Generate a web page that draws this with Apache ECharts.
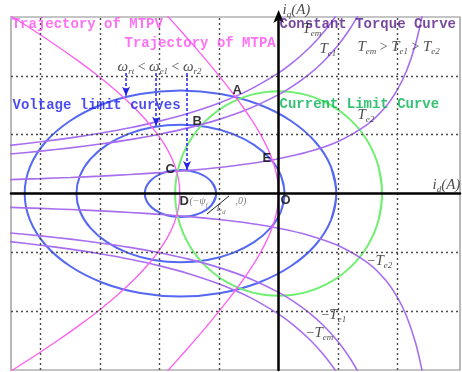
<!DOCTYPE html>
<html><head><meta charset="utf-8">
<script src="https://cdn.jsdelivr.net/npm/echarts@6/dist/echarts.min.js"></script>
<style>html,body{margin:0;padding:0;background:#fff}#c{width:462px;height:372px}</style>
</head><body><div id="c"></div>
<script>
// ---- data (i_d, i_q), in grid units ----
const gridX = [-4, -3, -2, -1, 1, 2];
const gridY = [-2, -1, 1, 2];

const voltageSmall = [[-1.13,-0.2],[-1.05,0],[-1.13,0.2],[-1.35,0.346],[-1.65,0.4],[-1.95,0.346],[-2.17,0.2],[-2.25,0],[-2.17,-0.2],[-1.95,-0.346],[-1.65,-0.4],[-1.35,-0.346],[-1.13,-0.2],[-1.05,0],[-1.13,0.2]];
const voltageMiddle = [[0.04,-0.303],[0.10,0],[0.04,0.303],[-0.134,0.585],[-0.413,0.827],[-0.775,1.013],[-1.197,1.13],[-1.65,1.17],[-2.103,1.13],[-2.525,1.013],[-2.887,0.827],[-3.166,0.585],[-3.34,0.303],[-3.4,0],[-3.34,-0.303],[-3.166,-0.585],[-2.887,-0.827],[-2.525,-1.013],[-2.103,-1.13],[-1.65,-1.17],[-1.197,-1.13],[-0.775,-1.013],[-0.413,-0.827],[-0.134,-0.585],[0.04,-0.303],[0.10,0],[0.04,0.303]];
const voltageLarge = [[0.881,-0.453],[0.97,0],[0.881,0.453],[0.619,0.875],[0.203,1.237],[-0.34,1.516],[-0.972,1.69],[-1.65,1.75],[-2.328,1.69],[-2.96,1.516],[-3.503,1.237],[-3.919,0.875],[-4.181,0.453],[-4.27,0],[-4.181,-0.453],[-3.919,-0.875],[-3.503,-1.237],[-2.96,-1.516],[-2.328,-1.69],[-1.65,-1.75],[-0.972,-1.69],[-0.34,-1.516],[0.203,-1.237],[0.619,-0.875],[0.881,-0.453],[0.97,0],[0.881,0.453]];
const currentLimit = [[1.681,-0.45],[1.74,0],[1.681,0.45],[1.507,0.87],[1.23,1.23],[0.87,1.507],[0.45,1.681],[0,1.74],[-0.45,1.681],[-0.87,1.507],[-1.23,1.23],[-1.507,0.87],[-1.681,0.45],[-1.74,0],[-1.681,-0.45],[-1.507,-0.87],[-1.23,-1.23],[-0.87,-1.507],[-0.45,-1.681],[0,-1.74],[0.45,-1.681],[0.87,-1.507],[1.23,-1.23],[1.507,-0.87],[1.681,-0.45],[1.74,0],[1.681,0.45]];

const torqueTem = [[-4.6,0.809],[-4,0.879],[-3.5,0.946],[-3,1.025],[-2.5,1.118],[-2,1.23],[-1.5,1.367],[-1,1.538],[-0.5,1.757],[0,2.05],[0.25,2.236],[0.5,2.46],[0.65,2.617],[0.8,2.795],[0.9,2.929],[1.0,3.075],[1.1,3.237]];
const torqueTe1 = [[-4.6,0.663],[-4,0.72],[-3.5,0.775],[-3,0.84],[-2.5,0.916],[-2,1.008],[-1.5,1.12],[-1,1.26],[-0.5,1.44],[0,1.68],[0.25,1.833],[0.5,2.016],[0.75,2.24],[1.0,2.52],[1.2,2.8],[1.35,3.055],[1.45,3.252]];
const torqueTe2 = [[-4.6,0.233],[-4,0.253],[-3.5,0.272],[-3,0.295],[-2.5,0.322],[-2,0.354],[-1.5,0.393],[-1,0.443],[-0.5,0.506],[0,0.59],[0.5,0.708],[1.0,0.885],[1.5,1.18],[1.8,1.475],[2.0,1.77],[2.15,2.082],[2.3,2.529],[2.4,2.95],[2.45,3.218]];
const torqueNegTem = [[-4.6,-0.809],[-4,-0.879],[-3.5,-0.946],[-3,-1.025],[-2.5,-1.118],[-2,-1.23],[-1.5,-1.367],[-1,-1.538],[-0.5,-1.757],[0,-2.05],[0.25,-2.236],[0.5,-2.46],[0.65,-2.617],[0.8,-2.795],[0.9,-2.929],[1.0,-3.075],[1.1,-3.237]];
const torqueNegTe1 = [[-4.6,-0.663],[-4,-0.72],[-3.5,-0.775],[-3,-0.84],[-2.5,-0.916],[-2,-1.008],[-1.5,-1.12],[-1,-1.26],[-0.5,-1.44],[0,-1.68],[0.25,-1.833],[0.5,-2.016],[0.75,-2.24],[1.0,-2.52],[1.2,-2.8],[1.35,-3.055],[1.45,-3.252]];
const torqueNegTe2 = [[-4.6,-0.233],[-4,-0.253],[-3.5,-0.272],[-3,-0.295],[-2.5,-0.322],[-2,-0.354],[-1.5,-0.393],[-1,-0.443],[-0.5,-0.506],[0,-0.59],[0.5,-0.708],[1.0,-0.885],[1.5,-1.18],[1.8,-1.475],[2.0,-1.77],[2.15,-2.082],[2.3,-2.529],[2.4,-2.95],[2.45,-3.218]];

const mtpa = [[-1.944,-3.1],[-1.854,-3],[-1.632,-2.75],[-1.415,-2.5],[-1.204,-2.25],[-1.0,-2],[-0.805,-1.75],[-0.621,-1.5],[-0.453,-1.25],[-0.303,-1],[-0.177,-0.75],[-0.081,-0.5],[-0.021,-0.25],[0,0],[-0.021,0.25],[-0.081,0.5],[-0.177,0.75],[-0.303,1],[-0.453,1.25],[-0.621,1.5],[-0.805,1.75],[-1.0,2],[-1.204,2.25],[-1.415,2.5],[-1.632,2.75],[-1.854,3],[-1.944,3.1]];
const mtpv = [[-4.634,-3.1],[-4.474,-3],[-4.085,-2.75],[-3.715,-2.5],[-3.365,-2.25],[-3.038,-2],[-2.738,-1.75],[-2.468,-1.5],[-2.231,-1.25],[-2.031,-1],[-1.871,-0.75],[-1.755,-0.5],[-1.684,-0.25],[-1.66,0],[-1.684,0.25],[-1.755,0.5],[-1.871,0.75],[-2.031,1],[-2.231,1.25],[-2.468,1.5],[-2.738,1.75],[-3.038,2],[-3.365,2.25],[-3.715,2.5],[-4.085,2.75],[-4.474,3],[-4.634,3.1]];

// speed arrows: [i_d, from i_q, to i_q]
const speedArrows = [[-2.566,2.048,1.66],[-2.061,2.048,1.15],[-1.54,2.048,0.40]];

const COL = {blue:'#5468f2', green:'#72ee72', pink:'#ff5ef0', purple:'#a86ef0'};
const MONO = "'Liberation Mono','DejaVu Sans Mono',monospace";
const SERIF = "'Liberation Serif','DejaVu Serif',serif";

function curve(name, data, color, width, smooth) {
  return {name, type:'line', data, smooth, showSymbol:false, silent:true,
    lineStyle:{color, width}, clip:true, z:3};
}

const mathRich = {
  t:{fontFamily:SERIF, fontStyle:'italic', fontSize:15, color:'#222', lineHeight:20, verticalAlign:'middle'},
  s:{fontFamily:SERIF, fontStyle:'italic', fontSize:9, color:'#222', lineHeight:20, verticalAlign:'bottom', padding:[0,0,1,0]},
  o:{fontFamily:SERIF, fontSize:14, color:'#222', lineHeight:20, verticalAlign:'middle'},
  w:{fontFamily:SERIF, fontStyle:'italic', fontSize:15, color:'#222', lineHeight:20, verticalAlign:'middle'},
  g:{fontFamily:SERIF, fontStyle:'italic', fontSize:10, color:'#555', lineHeight:14, verticalAlign:'middle'},
  gs:{fontFamily:SERIF, fontStyle:'italic', fontSize:7, color:'#555', lineHeight:14, verticalAlign:'bottom'}
};

function lbl(x, y, text, style, offset) {
  return {value:[x, y], label:Object.assign({show:true, position:[0,0], align:'left', verticalAlign:'middle',
    formatter:text, rich:mathRich, offset: offset || [0,0]}, style)};
}
const bigText = (color) => ({fontFamily:MONO, fontWeight:'bold', fontSize:14, color});
const letter = {fontFamily:"'Liberation Sans','DejaVu Sans',sans-serif", fontWeight:'bold', fontSize:13, color:'#000'};

const labels = [
  lbl(-4.48, 2.864, 'Trajectory of MTPV', bigText('#ff4ef0')),
  lbl(-2.583, 2.541, 'Trajectory of MTPA', bigText('#ff4ef0')),
  lbl(0.024, 2.864, 'Constant Torque Curve', bigText('#521a86')),
  lbl(-4.466, 1.487, 'Voltage limit curves', bigText('#1e1ef0')),
  lbl(0.024, 1.504, 'Current Limit Curve', bigText('#00b450')),
  lbl(-0.767, 1.742, 'A', letter),
  lbl(-1.439, 1.215, 'B', letter),
  lbl(-1.893, 0.399, 'C', letter),
  lbl(-0.262, 0.586, 'E', letter),
  lbl(-1.658, -0.144, 'D', letter),
  lbl(0.04, -0.127, 'O', letter),
  lbl(-2.70, 2.133, '{w|ω}{s|rt}{o| < }{w|ω}{s|e1}{o| < }{w|ω}{s|r2}', {}),
  lbl(0.41, 2.779, '{t|T}{s|em}', {}),
  lbl(0.696, 2.439, '{t|T}{s|e1}', {}),
  lbl(1.335, 2.473, '{t|T}{s|em}{o| > }{t|T}{s|e1}{o| > }{t|T}{s|e2}', {}),
  lbl(1.335, 1.317, '{t|T}{s|e2}', {}),
  lbl(1.503, -1.164, '{o|−}{t|T}{s|e2}', {}),
  lbl(0.729, -2.082, '{o|−}{t|T}{s|e1}', {}),
  lbl(0.477, -2.388, '{o|−}{t|T}{s|em}', {}),
  lbl(2.596, 0.127, '{t|i}{s|d}{t|(A)}', {}),
  lbl(0.074, 2.9, '{t|i}{s|q}{t|(A)}', {}, [0,-12]),
  lbl(-1.49, -0.144, '{g|(−ψ}{gs|f}', {}),
  lbl(-1.036, -0.263, '{g|L}{gs|d}', {}),
  lbl(-0.716, -0.144, '{g|,0)}', {})
];

const chart = echarts.init(document.getElementById('c'), null, {renderer:'canvas'});
chart.setOption({
  animation:false,
  backgroundColor:'#fff',
  grid:{left:11, right:2, top:17, bottom:2, show:true, borderColor:'#8a8a8a', borderWidth:1.2, backgroundColor:'transparent'},
  xAxis:{type:'value', min:-4.5, max:3.05, z:6,
    axisLine:{onZero:true, lineStyle:{color:'#000', width:2.5}},
    axisTick:{show:false}, axisLabel:{show:false}, splitLine:{show:false}},
  yAxis:{type:'value', min:-3, max:3, z:6,
    axisLine:{onZero:true, symbol:['none','arrow'], symbolSize:[8,13], symbolOffset:[0,7], lineStyle:{color:'#000', width:2.5}},
    axisTick:{show:false}, axisLabel:{show:false}, splitLine:{show:false}},
  series:[
    {type:'line', data:[[0,0]], showSymbol:false, silent:true, lineStyle:{opacity:0}, z:1,
      markLine:{silent:true, symbol:['none','none'], label:{show:false},
        lineStyle:{color:'#4a4a4a', type:[2,3], width:1.4},
        data: gridX.map(v => ({xAxis:v})).concat(gridY.map(v => ({yAxis:v})))}},
    curve('Voltage small', voltageSmall, COL.blue, 2, 0.35),
    curve('Voltage middle', voltageMiddle, COL.blue, 2, 0.34),
    curve('Voltage large', voltageLarge, COL.blue, 2, 0.34),
    curve('Current limit', currentLimit, COL.green, 2, 0.34),
    curve('Tem', torqueTem, COL.purple, 1.6, 0.25),
    curve('Te1', torqueTe1, COL.purple, 1.6, 0.25),
    curve('Te2', torqueTe2, COL.purple, 1.6, 0.25),
    curve('-Tem', torqueNegTem, COL.purple, 1.6, 0.25),
    curve('-Te1', torqueNegTe1, COL.purple, 1.6, 0.25),
    curve('-Te2', torqueNegTe2, COL.purple, 1.6, 0.25),
    curve('MTPA', mtpa, COL.pink, 1.3, 0.3),
    curve('MTPV', mtpv, COL.pink, 1.3, 0.3),
    {type:'line', data:[[0,0]], showSymbol:false, silent:true, lineStyle:{opacity:0}, z:4,
      markLine:{silent:true, symbol:['none','arrow'], symbolSize:[6,9], label:{show:false},
        lineStyle:{color:'#2424e6', type:[3,2], width:1.5},
        data: speedArrows.map(a => [{coord:[a[0], a[1]]}, {coord:[a[0], a[2]]}])}},
    {type:'line', data:[[0,0]], showSymbol:false, silent:true, lineStyle:{opacity:0}, z:4,
      markLine:{silent:true, symbol:['none','none'], label:{show:false},
        lineStyle:{color:'#222', type:'solid', width:1},
        data:[[{coord:[-1.204,-0.348]},{coord:[-0.834,-0.042]}]]}},
    {type:'scatter', data:labels, symbolSize:1, itemStyle:{color:'rgba(0,0,0,0)'}, silent:true, z:8, clip:false}
  ]
});
</script>
</body></html>
